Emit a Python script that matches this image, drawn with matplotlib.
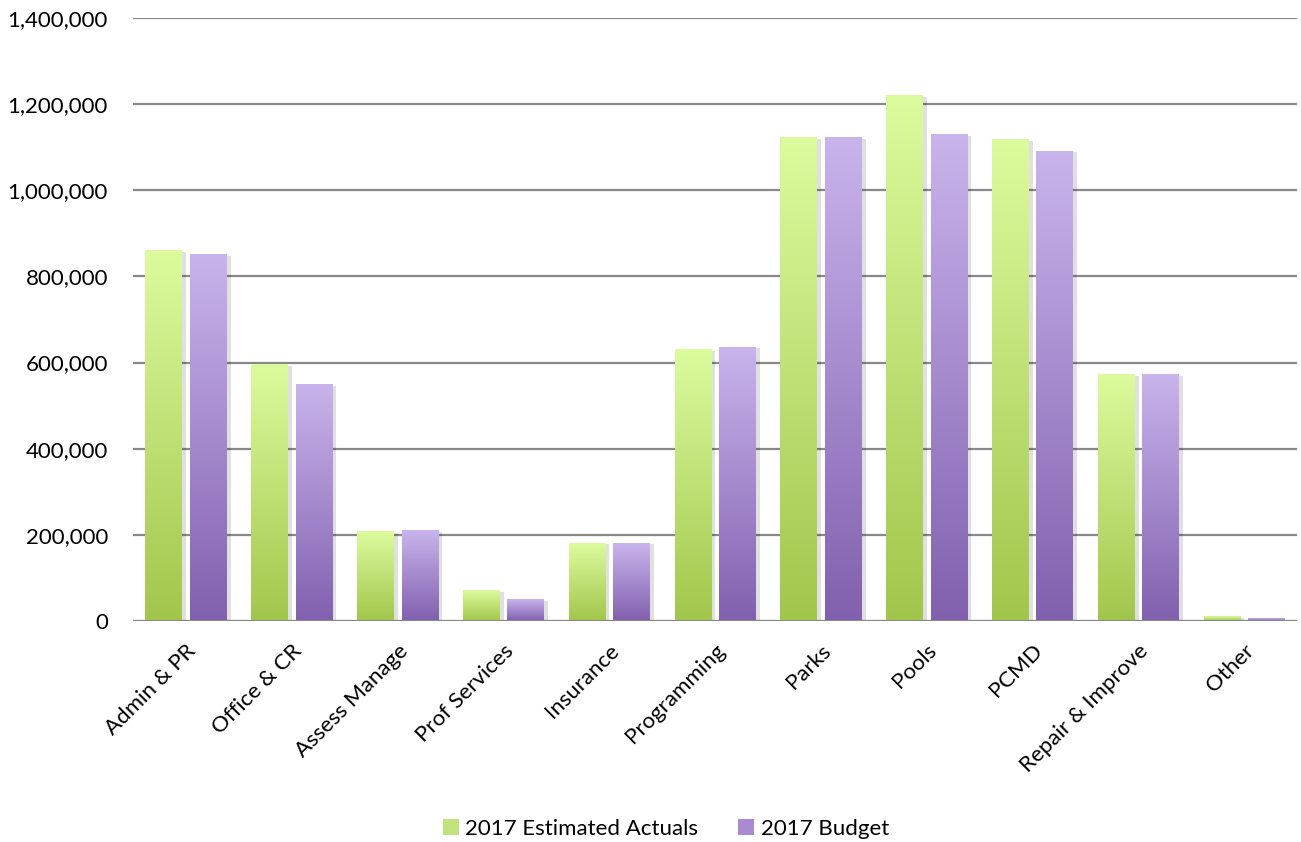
import numpy as np
import matplotlib
matplotlib.use('Agg')
import matplotlib.pyplot as plt
import matplotlib.patheffects as pe
from matplotlib.colors import LinearSegmentedColormap
from matplotlib.patches import Patch
from matplotlib.ticker import FuncFormatter

categories = ['Admin & PR', 'Office & CR', 'Assess Manage', 'Prof Services',
              'Insurance', 'Programming', 'Parks', 'Pools', 'PCMD',
              'Repair & Improve', 'Other']
estimated = [860000, 595000, 207000, 70000, 181000, 630000,
             1123000, 1220000, 1118000, 573000, 11000]
budget = [851000, 549000, 209000, 49000, 181000, 636000,
          1123000, 1130000, 1091000, 573000, 6000]
series_names = ['2017 Estimated Actuals', '2017 Budget']

plt.rcParams['font.family'] = ['Lato', 'DejaVu Sans']

green = LinearSegmentedColormap.from_list('g', ['#a2c64c', '#dcfb9e'])
purple = LinearSegmentedColormap.from_list('p', ['#8160ae', '#c9b4ec'])

fig = plt.figure(figsize=(13.01, 8.42), dpi=100)
ax = fig.add_axes([0.1022, 0.2625, 0.8948, 0.7161])

x = np.arange(len(categories))
width = 0.345
offset = 0.21

grad = np.linspace(0, 1, 256).reshape(-1, 1)


def gradient_bars(xpos, values, cmap, mid):
    bars = ax.bar(xpos, values, width, color=mid, zorder=3,
                  path_effects=[pe.SimplePatchShadow(offset=(3, -1), shadow_rgbFace='#000000', alpha=0.12),
                                pe.Normal()])
    # paint each bar with a vertical gradient, dark at the base
    for b in bars:
        x0 = b.get_x()
        h = b.get_height()
        ax.imshow(grad, cmap=cmap, origin='lower', aspect='auto',
                  extent=(x0, x0 + b.get_width(), 0, h), zorder=4,
                  interpolation='bicubic')
    return bars


gradient_bars(x - offset, estimated, green, '#c2e27c')
gradient_bars(x + offset, budget, purple, '#a88bd1')

ax.set_xlim(-0.5, len(categories) - 0.5)
ax.set_ylim(0, 1400000)
ax.set_yticks(np.arange(0, 1400001, 200000))
ax.yaxis.set_major_formatter(FuncFormatter(lambda v, p: f'{int(v):,}'))
ax.grid(axis='y', color='#888888', linewidth=1.6, zorder=0)
ax.axhline(0, color='#888888', linewidth=2.2, zorder=5)
for s in ax.spines.values():
    s.set_visible(False)
ax.tick_params(axis='y', length=0, pad=18, labelsize=16, labelcolor='#000000')
ax.tick_params(axis='x', length=0, pad=14, labelsize=16)
ax.set_xticks(x)
ax.set_xticklabels(categories, rotation=45, ha='right', rotation_mode='anchor')

handles = [Patch(facecolor='#c2e27c', edgecolor='none'),
           Patch(facecolor='#a88bd1', edgecolor='none')]
fig.legend(handles, series_names, loc='center', bbox_to_anchor=(0.512, 0.016),
           ncol=2, frameon=False, fontsize=16, handlelength=0.7,
           handleheight=0.7, handletextpad=0.3, columnspacing=1.8)

fig.savefig('out.png', dpi=100)
